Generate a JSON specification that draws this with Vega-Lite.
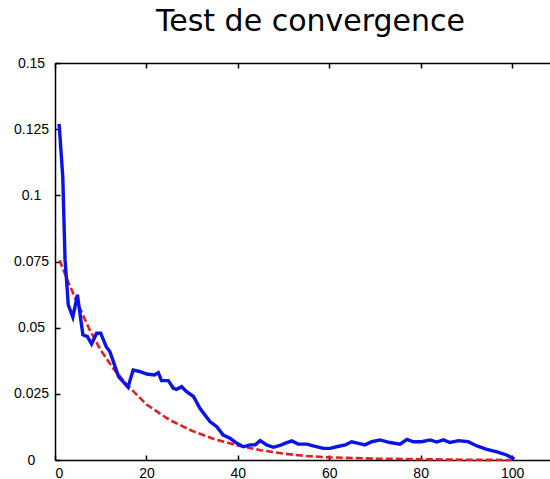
{
  "$schema": "https://vega.github.io/schema/vega-lite/v6.json",
  "autosize": "none",
  "width": 495,
  "height": 397,
  "padding": {"left": 55, "top": 63, "right": 0, "bottom": 19},
  "background": "white",
  "title": {"text": "Test de convergence", "font": "DejaVu Sans", "fontSize": 30, "fontWeight": "normal", "color": "black", "anchor": "middle", "dx": 8, "offset": 19},
  "config": {
    "view": {"stroke": null},
    "axis": {"grid": false, "domainColor": "black", "domainWidth": 1.5, "tickColor": "black", "tickWidth": 1.5, "tickSize": 5, "labelFont": "Liberation Sans", "labelFontSize": 14, "labelColor": "black", "titleFontSize": 0}
  },
  "datasets": {
    "blue": [
      {"it": 0.9, "err": 0.127},
      {"it": 1.7, "err": 0.107},
      {"it": 2.2, "err": 0.0756},
      {"it": 2.55, "err": 0.0674},
      {"it": 2.9, "err": 0.0586},
      {"it": 3.9, "err": 0.054},
      {"it": 4.9, "err": 0.0624},
      {"it": 6.1, "err": 0.0473},
      {"it": 7.1, "err": 0.0466},
      {"it": 8.0, "err": 0.0438},
      {"it": 9.1, "err": 0.0479},
      {"it": 10.0, "err": 0.0479},
      {"it": 11.2, "err": 0.0428},
      {"it": 12.0, "err": 0.041},
      {"it": 12.9, "err": 0.0365},
      {"it": 13.9, "err": 0.0315},
      {"it": 14.9, "err": 0.0296},
      {"it": 16.0, "err": 0.0275},
      {"it": 16.4, "err": 0.030},
      {"it": 17.1, "err": 0.034},
      {"it": 18.6, "err": 0.0334},
      {"it": 20.1, "err": 0.0325},
      {"it": 21.7, "err": 0.0321},
      {"it": 22.6, "err": 0.033},
      {"it": 23.3, "err": 0.030},
      {"it": 24.8, "err": 0.030},
      {"it": 25.9, "err": 0.0271},
      {"it": 26.6, "err": 0.0267},
      {"it": 27.7, "err": 0.0277},
      {"it": 28.8, "err": 0.0258},
      {"it": 30.3, "err": 0.024},
      {"it": 31.7, "err": 0.0195},
      {"it": 33.9, "err": 0.0145},
      {"it": 35.4, "err": 0.0126},
      {"it": 36.8, "err": 0.0094},
      {"it": 38.3, "err": 0.0082},
      {"it": 39.8, "err": 0.0063},
      {"it": 41.2, "err": 0.005},
      {"it": 42.7, "err": 0.0057},
      {"it": 43.8, "err": 0.0057},
      {"it": 44.9, "err": 0.0073},
      {"it": 46.3, "err": 0.0057},
      {"it": 47.8, "err": 0.0048},
      {"it": 49.2, "err": 0.0055},
      {"it": 50.3, "err": 0.0063},
      {"it": 51.8, "err": 0.0072},
      {"it": 53.2, "err": 0.006},
      {"it": 55.1, "err": 0.006},
      {"it": 56.5, "err": 0.0053},
      {"it": 58.7, "err": 0.0044},
      {"it": 60.2, "err": 0.0044},
      {"it": 61.6, "err": 0.005},
      {"it": 63.5, "err": 0.0057},
      {"it": 64.9, "err": 0.0069},
      {"it": 66.4, "err": 0.0063},
      {"it": 67.8, "err": 0.0057},
      {"it": 69.3, "err": 0.0069},
      {"it": 71.1, "err": 0.0076},
      {"it": 73.3, "err": 0.0066},
      {"it": 75.5, "err": 0.006},
      {"it": 77.0, "err": 0.0078},
      {"it": 78.4, "err": 0.0069},
      {"it": 80.2, "err": 0.0069},
      {"it": 82.1, "err": 0.0076},
      {"it": 83.5, "err": 0.0068},
      {"it": 85.0, "err": 0.0076},
      {"it": 86.4, "err": 0.0066},
      {"it": 88.3, "err": 0.0073},
      {"it": 90.4, "err": 0.0069},
      {"it": 92.3, "err": 0.0053},
      {"it": 94.5, "err": 0.004},
      {"it": 96.7, "err": 0.0031},
      {"it": 98.8, "err": 0.0019},
      {"it": 100.5, "err": 0.0004}
    ],
    "red": [
      {"it": 1, "err": 0.0755},
      {"it": 3, "err": 0.0668},
      {"it": 5, "err": 0.059},
      {"it": 7.5, "err": 0.0495},
      {"it": 10, "err": 0.0415},
      {"it": 13, "err": 0.034},
      {"it": 16, "err": 0.028},
      {"it": 20, "err": 0.021},
      {"it": 25, "err": 0.0152},
      {"it": 30, "err": 0.011},
      {"it": 35, "err": 0.0078},
      {"it": 40, "err": 0.0055},
      {"it": 45, "err": 0.0037},
      {"it": 50, "err": 0.0024},
      {"it": 55, "err": 0.0015},
      {"it": 60, "err": 0.001},
      {"it": 70, "err": 0.0005},
      {"it": 80, "err": 0.0003},
      {"it": 90, "err": 0.0001},
      {"it": 100, "err": 0.0}
    ]
  },
  "layer": [
    {
      "data": {"name": "red"},
      "mark": {"type": "line", "color": "#e02020", "strokeWidth": 2.6, "strokeDash": [7, 3]},
      "encoding": {
        "x": {"field": "it", "type": "quantitative", "scale": {"domain": [0, 108.3], "nice": false, "zero": false},
          "axis": {"orient": "top", "values": [0, 20, 40, 60, 80, 100], "labels": false, "title": null,
            "encoding": {"ticks": {"y2": {"value": 5}}}}},
        "y": {"field": "err", "type": "quantitative", "scale": {"domain": [0, 0.15], "nice": false},
          "axis": {"orient": "left", "values": [0, 0.025, 0.05, 0.075, 0.1, 0.125, 0.15], "labelExpr": "'' + datum.value", "labelAlign": "center", "labelPadding": 19, "title": null,
            "encoding": {"ticks": {"x2": {"value": 5}}}}}
      }
    },
    {
      "data": {"name": "blue"},
      "mark": {"type": "line", "color": "#0a14e6", "strokeWidth": 3.4},
      "encoding": {
        "x": {"field": "it", "type": "quantitative",
          "axis": {"orient": "bottom", "values": [0, 20, 40, 60, 80, 100], "labelPadding": 1, "title": null,
            "encoding": {"ticks": {"y2": {"value": -5}}}}},
        "y": {"field": "err", "type": "quantitative",
          "axis": {"orient": "left", "values": [0, 0.025, 0.05, 0.075, 0.1, 0.125, 0.15], "labelExpr": "'' + datum.value", "labelAlign": "center", "labelPadding": 19, "title": null,
            "encoding": {"ticks": {"x2": {"value": 5}}}}}
      }
    }
  ]
}
